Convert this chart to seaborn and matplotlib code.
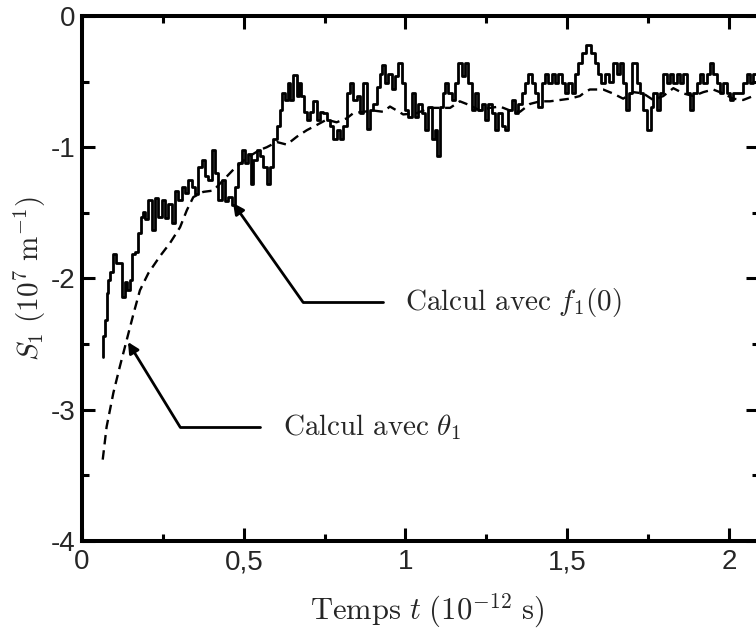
import numpy as np
import pandas as pd
import matplotlib.pyplot as plt
import seaborn as sns

# temps (1e-12 s) et S1 (1e7 m^-1), calcul avec f1(0) : courbe bruitee
t_f10 = [0.064, 0.068, 0.074, 0.078, 0.084, 0.092, 0.102, 0.109, 0.117, 0.128,
         0.136, 0.143, 0.151, 0.159, 0.169, 0.179, 0.188, 0.192, 0.200, 0.210,
         0.220, 0.231, 0.241, 0.251, 0.262, 0.272, 0.282, 0.293, 0.303, 0.313,
         0.324, 0.334, 0.344, 0.355, 0.365, 0.375, 0.385, 0.396, 0.406, 0.416,
         0.427, 0.437, 0.447, 0.457, 0.468, 0.478, 0.488, 0.499, 0.509, 0.519,
         0.525, 0.535, 0.545, 0.555, 0.566, 0.576, 0.586, 0.597, 0.607, 0.617,
         0.622, 0.633, 0.638, 0.648, 0.658, 0.669, 0.674, 0.682, 0.689, 0.700,
         0.710, 0.720, 0.730, 0.741, 0.751, 0.761, 0.772, 0.782, 0.792, 0.803,
         0.813, 0.823, 0.834, 0.844, 0.854, 0.865, 0.875, 0.885, 0.896, 0.906,
         0.916, 0.926, 0.931, 0.942, 0.952, 0.962, 0.973, 0.983, 0.993, 1.004,
         1.014, 1.024, 1.035, 1.045, 1.055, 1.066, 1.076, 1.086, 1.096, 1.101,
         1.112, 1.117, 1.127, 1.138, 1.148, 1.158, 1.168, 1.179, 1.189, 1.199,
         1.210, 1.220, 1.230, 1.241, 1.251, 1.261, 1.272, 1.282, 1.292, 1.302,
         1.313, 1.323, 1.333, 1.344, 1.354, 1.364, 1.375, 1.385, 1.395, 1.406,
         1.416, 1.426, 1.437, 1.447, 1.457, 1.468, 1.478, 1.488, 1.498, 1.508,
         1.519, 1.529, 1.539, 1.550, 1.565, 1.580, 1.591, 1.601, 1.611, 1.622,
         1.637, 1.647, 1.658, 1.668, 1.679, 1.686, 1.694, 1.709, 1.720, 1.730,
         1.740, 1.754, 1.761, 1.771, 1.782, 1.792, 1.802, 1.812, 1.823, 1.833,
         1.843, 1.854, 1.864, 1.874, 1.885, 1.895, 1.905, 1.916, 1.926, 1.936,
         1.947, 1.957, 1.967, 1.978, 1.988, 1.998, 2.008, 2.019, 2.039, 2.049,
         2.060, 2.070, 2.080, 2.095]
s_f10 = [-2.60, -2.44, -2.32, -2.11, -2.01, -1.95, -1.81, -1.88, -1.88, -2.14,
         -2.03, -2.09, -2.01, -1.81, -1.80, -1.65, -1.53, -1.49, -1.55, -1.40,
         -1.63, -1.39, -1.53, -1.40, -1.54, -1.43, -1.58, -1.33, -1.40, -1.30,
         -1.35, -1.25, -1.30, -1.36, -1.15, -1.10, -1.22, -1.25, -1.02, -1.20,
         -1.40, -1.25, -1.41, -1.38, -1.44, -1.30, -1.12, -1.02, -1.12, -1.05,
         -1.28, -1.10, -1.02, -1.07, -1.15, -1.28, -1.15, -0.94, -0.84, -0.72,
         -0.59, -0.64, -0.51, -0.64, -0.45, -0.61, -0.51, -0.61, -0.73, -0.79,
         -0.73, -0.65, -0.79, -0.73, -0.74, -0.79, -0.84, -0.94, -0.87, -0.94,
         -0.84, -0.59, -0.51, -0.64, -0.61, -0.74, -0.51, -0.86, -0.72, -0.67,
         -0.54, -0.44, -0.37, -0.51, -0.44, -0.56, -0.46, -0.36, -0.51, -0.72,
         -0.77, -0.59, -0.77, -0.67, -0.74, -0.87, -0.69, -0.94, -0.87, -1.07,
         -0.69, -0.59, -0.51, -0.59, -0.64, -0.51, -0.36, -0.46, -0.36, -0.51,
         -0.72, -0.59, -0.72, -0.67, -0.79, -0.67, -0.74, -0.87, -0.74, -0.84,
         -0.87, -0.72, -0.64, -0.74, -0.67, -0.59, -0.51, -0.44, -0.51, -0.59,
         -0.69, -0.51, -0.44, -0.51, -0.44, -0.51, -0.44, -0.51, -0.59, -0.51,
         -0.59, -0.44, -0.36, -0.28, -0.22, -0.28, -0.36, -0.44, -0.51, -0.44,
         -0.50, -0.36, -0.44, -0.36, -0.51, -0.72, -0.59, -0.36, -0.51, -0.59,
         -0.72, -0.87, -0.69, -0.59, -0.72, -0.59, -0.44, -0.51, -0.44, -0.51,
         -0.44, -0.51, -0.44, -0.59, -0.72, -0.59, -0.51, -0.44, -0.51, -0.44,
         -0.36, -0.44, -0.51, -0.59, -0.51, -0.59, -0.64, -0.59, -0.59, -0.51,
         -0.44, -0.51, -0.44, -0.44]

# calcul avec theta1 : courbe lisse (pointillés)
t_theta = [0.064, 0.076, 0.097, 0.117, 0.138, 0.159, 0.179, 0.205, 0.241, 0.272,
           0.303, 0.324, 0.344, 0.375, 0.406, 0.437, 0.468, 0.510, 0.550, 0.571,
           0.602, 0.633, 0.664, 0.695, 0.726, 0.756, 0.787, 0.818, 0.839, 0.870,
           0.900, 0.931, 0.952, 0.973, 0.993, 1.035, 1.076, 1.107, 1.138, 1.168,
           1.199, 1.230, 1.261, 1.292, 1.323, 1.354, 1.385, 1.416, 1.447, 1.478,
           1.508, 1.539, 1.555, 1.570, 1.611, 1.641, 1.673, 1.704, 1.735, 1.766,
           1.797, 1.828, 1.859, 1.890, 1.921, 1.951, 1.982, 2.013, 2.044, 2.075,
           2.095]
s_theta = [-3.38, -3.13, -2.87, -2.67, -2.47, -2.27, -2.09, -1.96, -1.83, -1.73,
           -1.61, -1.48, -1.38, -1.34, -1.33, -1.25, -1.17, -1.08, -1.02, -1.00,
           -0.96, -0.98, -0.92, -0.87, -0.83, -0.79, -0.81, -0.78, -0.74, -0.73,
           -0.72, -0.73, -0.69, -0.72, -0.75, -0.74, -0.70, -0.70, -0.70, -0.65,
           -0.68, -0.72, -0.70, -0.69, -0.72, -0.73, -0.67, -0.65, -0.65, -0.64,
           -0.63, -0.61, -0.58, -0.56, -0.56, -0.59, -0.63, -0.58, -0.59, -0.64,
           -0.61, -0.55, -0.59, -0.61, -0.58, -0.56, -0.59, -0.63, -0.64, -0.61,
           -0.61]

x_ticks = [0, 0.5, 1, 1.5, 2]
x_ticklabels = ["0", "0,5", "1", "1,5", "2"]
y_ticks = [0, -1, -2, -3, -4]
y_ticklabels = ["0", "-1", "-2", "-3", "-4"]

sns.set_style("ticks")
plt.rcParams['font.family'] = ['Liberation Sans', 'DejaVu Sans']
plt.rcParams['mathtext.fontset'] = 'cm'

fig = plt.figure(figsize=(7.56, 6.37), dpi=100)
ax = fig.add_axes([0.1085, 0.1507, 0.8955, 0.8242])

sns.lineplot(x=t_f10, y=s_f10, ax=ax, color='k', lw=2.0, drawstyle='steps-mid')
sns.lineplot(x=t_theta, y=s_theta, ax=ax, color='k', lw=1.7, linestyle=(0, (4, 2.5)))

ax.set_xlim(0, 2.093)
ax.set_ylim(-4, 0)
ax.set_xticks(x_ticks)
ax.set_xticklabels(x_ticklabels)
ax.set_yticks(y_ticks)
ax.set_yticklabels(y_ticklabels)
ax.set_xticks([0.25, 0.75, 1.25, 1.75], minor=True)
ax.set_yticks([-0.5, -1.5, -2.5, -3.5], minor=True)
ax.tick_params(which='both', direction='in', top=True, right=True, width=2.2, color='k')
ax.tick_params(which='major', length=9.5, labelsize=20, pad=5)
ax.tick_params(axis='x', which='major', pad=6)
ax.tick_params(which='minor', length=5)
for sp in ax.spines.values():
    sp.set_linewidth(2.9)
    sp.set_color('k')

ax.set_xlabel(r"$\mathrm{Temps}\ t\ (10^{-12}\ \mathrm{s})$", fontsize=22)
ax.xaxis.set_label_coords(0.51, -0.097)
ax.set_ylabel(r"$S_1\ (10^7\ \mathrm{m}^{-1})$", fontsize=21, labelpad=2)

# annotations avec fleche coudee
arrow = dict(arrowstyle='-|>', color='k', lw=2, mutation_scale=16, shrinkA=0, shrinkB=0)
ax.plot([0.930, 0.683], [-2.18, -2.18], color='k', lw=2)
ax.annotate("", xy=(0.467, -1.425), xytext=(0.683, -2.18), arrowprops=arrow)
ax.text(0.998, -2.18, r"$\mathrm{Calcul\ avec}\ f_1(0)$", fontsize=21, va='center', ha='left')

ax.plot([0.550, 0.303], [-3.131, -3.131], color='k', lw=2)
ax.annotate("", xy=(0.142, -2.484), xytext=(0.303, -3.131), arrowprops=arrow)
ax.text(0.621, -3.131, r"$\mathrm{Calcul\ avec}\ \theta_1$", fontsize=21, va='center', ha='left')

fig.savefig("out.png", dpi=100)
